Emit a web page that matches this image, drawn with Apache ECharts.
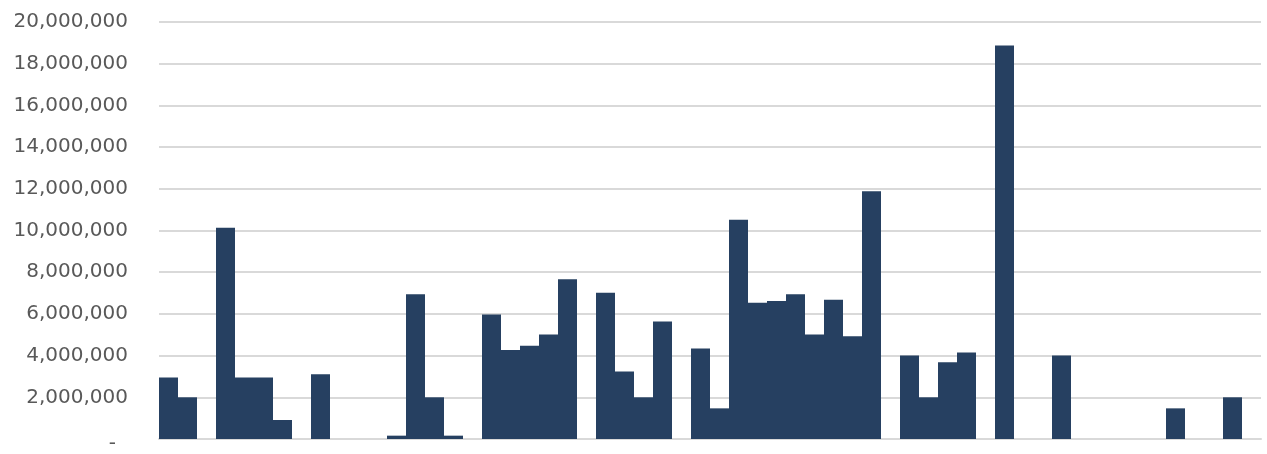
<!DOCTYPE html>
<html>
<head>
<meta charset="utf-8">
<script src="https://cdn.jsdelivr.net/npm/echarts@6/dist/echarts.min.js"></script>
<style>
  html, body { margin: 0; padding: 0; background: #fff; }
  #bars { width: 1267px; height: 454px; }
</style>
</head>
<body>
<div id="bars"></div>
<script>
// slots along the x axis (no labels shown in the original)
var categories = [
  'c1','c2','c3','c4','c5','c6','c7','c8','c9','c10',
  'c11','c12','c13','c14','c15','c16','c17','c18','c19','c20',
  'c21','c22','c23','c24','c25','c26','c27','c28','c29','c30',
  'c31','c32','c33','c34','c35','c36','c37','c38','c39','c40',
  'c41','c42','c43','c44','c45','c46','c47','c48','c49','c50',
  'c51','c52','c53','c54','c55','c56','c57','c58'
];
// values, null = empty slot
var values = [
  2950000, 2000000, null, 10130000, 2950000, 2950000, 910000, null, 3110000, null,
  null, null, 160000, 6940000, 2000000, 160000, null, 5970000, 4270000, 4470000,
  5010000, 7660000, null, 7020000, 3240000, 2000000, 5630000, null, 4340000, 1470000,
  10510000, 6540000, 6620000, 6940000, 5010000, 6680000, 4930000, 11880000, null, 4000000,
  2000000, 3680000, 4150000, null, 18870000, null, null, 4000000, null, null,
  null, null, null, 1470000, null, null, 2000000, null
];
var yMax = 20000000;
var yStep = 2000000;

var myChart = echarts.init(document.getElementById('bars'));

function fmt(v) {
  if (v === 0) return '{z|-}';
  return String(v).replace(/\B(?=(\d{3})+(?!\d))/g, ',');
}

var option = {
  animation: false,
  grid: { left: 159, right: 6, top: 22, bottom: 14, containLabel: false },
  xAxis: {
    type: 'category',
    data: categories,
    axisLine: { show: true, lineStyle: { color: '#d9d9d9', width: 2 } },
    axisTick: { show: false },
    axisLabel: { show: false }
  },
  yAxis: {
    type: 'value',
    min: 0,
    max: yMax,
    interval: yStep,
    axisLine: { show: false },
    axisTick: { show: false },
    splitLine: { lineStyle: { color: '#d9d9d9', width: 2 } },
    axisLabel: {
      margin: 31,
      fontFamily: 'DejaVu Sans',
      fontSize: 20,
      color: '#595959',
      formatter: fmt,
      rich: {
        z: { fontFamily: 'DejaVu Sans', fontSize: 20, color: '#595959', padding: [10, 12, 0, 0] }
      }
    }
  },
  series: [
    {
      name: 'values',
      type: 'bar',
      data: values,
      barCategoryGap: '0%',
      itemStyle: { color: '#264061' }
    }
  ]
};

myChart.setOption(option);
</script>
</body>
</html>
